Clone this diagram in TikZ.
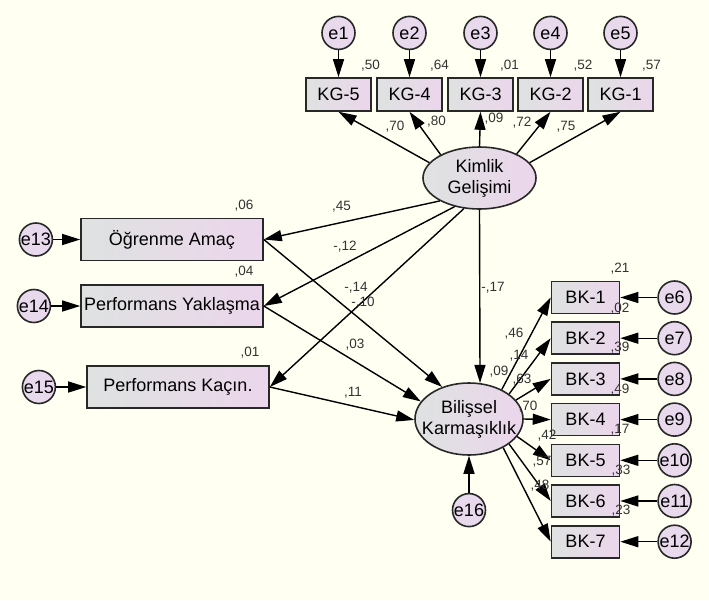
\documentclass[tikz,border=0pt]{standalone}
\usepackage{fontspec}
\setmainfont{Liberation Sans}
\usetikzlibrary{arrows.meta, positioning, shapes.geometric}

\definecolor{bgcream}{RGB}{255,255,242}
\definecolor{boxgrey}{RGB}{222,226,225}
\definecolor{boxpink}{RGB}{236,214,236}
\definecolor{errpink}{RGB}{234,216,238}
\definecolor{edgegrey}{RGB}{40,40,40}

\begin{document}
\begin{tikzpicture}[
    x=1pt, y=-1pt,
    >={Triangle[length=18pt, width=11pt]},
    obs/.style={draw=edgegrey, line width=1.6pt, left color=boxgrey,
                right color=boxpink, inner sep=0pt,
                font=\fontsize{18}{21}\selectfont},
    latent/.style={ellipse, draw=edgegrey, line width=1.6pt,
                   left color=boxgrey, right color=boxpink, inner sep=0pt},
    lvtext/.style={font=\fontsize{18}{21}\selectfont, align=center,
                   inner sep=0pt},
    err/.style={circle, draw=edgegrey, line width=1.6pt,
                left color=errpink!80!boxgrey, right color=errpink,
                minimum size=33pt, inner sep=-2pt,
                font=\fontsize{18}{21}\selectfont},
    est/.style={font=\fontsize{13.5}{15}\selectfont, text=black!80,
                inner sep=0pt},
    reg/.style={->, line width=1.4pt}
  ]
  \fill[bgcream] (0,0) rectangle (709,600);
  \useasboundingbox (0,0) rectangle (709,600);

  % latent variables
  \node[latent, minimum width=113pt, minimum height=62pt,
        label={[lvtext]center:{Kimlik\\Gelişimi}}] (kim) at (479.5,178) {};
  \node[latent, minimum width=108pt, minimum height=72pt,
        label={[lvtext]center:{Bilişsel\\Karmaşıklık}}] (bil) at (469,419) {};

  % KG items with their errors
  \foreach \i/\j/\x in {5/1/338.5, 4/2/409.5, 3/3/480.5, 2/4/550.5, 1/5/620.5} {
    \node[obs, minimum width=65pt, minimum height=33pt] (kg\i) at (\x,94.5) {KG-\i};
    \node[err, above=27pt of kg\i] (e\j) {e\j};
    \draw[reg] (e\j) -- (kg\i);
  }

  % goal orientations
  \node[obs, minimum width=182pt, minimum height=42pt] (oa) at (172,239.5)
    {Öğrenme Amaç};
  \node[obs, minimum width=182pt, minimum height=42pt] (py) at (172,306)
    {Performans Yaklaşma};
  \node[obs, minimum width=182pt, minimum height=42pt] (pk) at (178,387)
    {Performans Kaçın.};
  \node[err, left=27pt of oa] (e13) {e13};
  \node[err, left=29pt of py] (e14) {e14};
  \node[err, left=30pt of pk] (e15) {e15};
  \draw[reg] (e13) -- (oa);
  \draw[reg] (e14) -- (py);
  \draw[reg] (e15) -- (pk);

  % BK items with their errors
  \foreach \i in {1,...,7} {
    \pgfmathsetmacro\yy{297.5+40.7*(\i-1)}
    \pgfmathtruncatemacro\k{\i+5}
    \node[obs, minimum width=68pt, minimum height=32pt] (bk\i) at (585.5,\yy) {BK-\i};
    \node[err, right=37pt of bk\i] (e\k) {e\k};
    \draw[reg] (e\k) -- (bk\i);
  }
  \node[err, below=37pt of bil] (e16) {e16};
  \draw[reg] (e16) -- (bil);

  % measurement paths
  \draw[reg] (kim.163) -- (kg5.south);
  \draw[reg] (kim.149) -- (kg4.south);
  \draw[reg] (kim.north) -- (kg3.south);
  \draw[reg] (kim.33) -- (kg2.south);
  \draw[reg] (kim.17) -- (kg1.south);
  \foreach \i/\a in {1/42, 2/32, 3/22, 4/0, 5/-20, 6/-32, 7/-40}
    \draw[reg] (bil.\a) -- (bk\i.west);

  % structural paths
  \draw[reg] (kim.210) -- (oa.east);
  \draw[reg] (kim.229) -- (py.east);
  \draw[reg] (kim.243) -- (pk.east);
  \draw[reg] (kim.south) -- (bil.73);
  \draw[reg] (oa.east) -- (bil.130);
  \draw[reg] (py.east) -- (bil.160);
  \draw[reg] (pk.east) -- (bil.181);

  % estimates
  \foreach \x/\y/\t [count=\n] in {
      370.5/66/{,50}, 439.5/66/{,64}, 509.5/66/{,01}, 583/66/{,52}, 651.5/66/{,57},
      395/126.5/{,70}, 436.5/122/{,80}, 494/119/{,09}, 522/123/{,72}, 566/126.5/{,75},
      244/206/{,06}, 244/272/{,04}, 250/353/{,01},
      341.5/207/{,45}, 345/247/{-,12}, 356/288/{-,14}, 363/303/{-,10},
      355/345/{,03}, 353/393/{,11}, 493/288/{-,17},
      514/334/{,46}, 519/356/{,14}, 499/372/{,09}, 522/380/{,63},
      528/407/{,70}, 547/436/{,42}, 542/462/{,57}, 540/486/{,48},
      620/269/{,21}, 620/309/{,02}, 620/348/{,39}, 620/390/{,49},
      620/430/{,17}, 621/471/{,33}, 621/511/{,23}}
    \node[est] (est\n) at (\x,\y) {\t};
\end{tikzpicture}
\end{document}
